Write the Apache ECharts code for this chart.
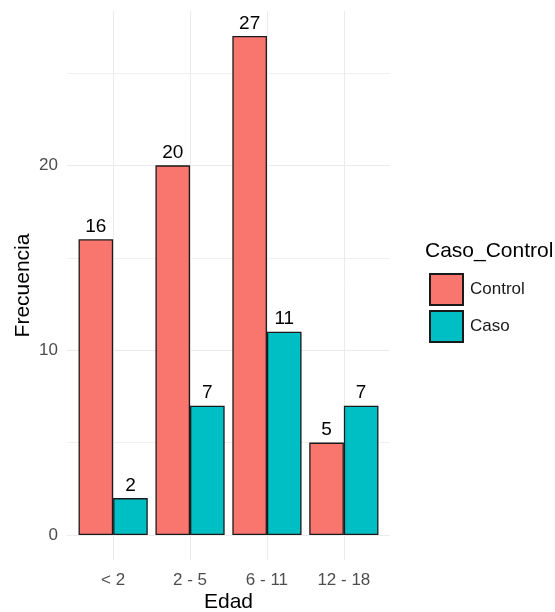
<!DOCTYPE html>
<html><head><meta charset="utf-8">
<script src="https://cdn.jsdelivr.net/npm/echarts@6/dist/echarts.min.js"></script>
<style>html,body{margin:0;padding:0;background:#fff}#c{width:555px;height:612px}</style>
</head><body><div id="c"></div>
<script>
const categories = ['< 2', '2 - 5', '6 - 11', '12 - 18'];
const controlValues = [16, 20, 27, 5];
const casoValues = [2, 7, 11, 7];
const yTickValues = [0, 10, 20];
const yMinorValues = [5, 15, 25];
const seriesNames = ['Control', 'Caso'];
const legendTitle = 'Caso_Control';
const xTitle = 'Edad';
const yTitle = 'Frecuencia';

const font = '"Liberation Sans", Arial, sans-serif';
const xPos = categories.map((c, i) => i + 1);
const gridMarks = [].concat(
  yTickValues.map(v => ({ yAxis: v, lineStyle: { color: '#ebebeb', width: 1, type: 'solid' } })),
  yMinorValues.map(v => ({ yAxis: v, lineStyle: { color: '#f0f0f0', width: 1, type: 'solid' } })),
  xPos.map(v => ({ xAxis: v, lineStyle: { color: '#ebebeb', width: 1, type: 'solid' } }))
);
const lbl = { show: true, position: 'top', distance: 3, color: '#000', fontSize: 19, fontFamily: font };
const border = { borderColor: '#1a1a1a', borderWidth: 1.3 };

const chart = echarts.init(document.getElementById('c'), null, { renderer: 'canvas' });
chart.setOption({
  animation: false,
  backgroundColor: '#fff',
  textStyle: { fontFamily: font },
  title: { text: legendTitle, left: 420, top: 236, textStyle: { fontSize: 21, fontWeight: 'normal', color: '#000', fontFamily: font } },
  legend: {
    orient: 'vertical', left: 424, top: 268, itemWidth: 33, itemHeight: 31, itemGap: 4,
    icon: 'rect', data: seriesNames,
    textStyle: { fontSize: 17, color: '#1a1a1a', fontFamily: font, padding: [0, 0, 0, 2] }
  },
  grid: { left: 67, right: 165, top: 11, bottom: 52, containLabel: false, outerBoundsMode: 'none' },
  xAxis: {
    type: 'value', min: 0.4, max: 4.6,
    name: xTitle, nameLocation: 'middle', nameGap: 32, nameMoveOverlap: false,
    nameTextStyle: { fontSize: 21, color: '#000', fontFamily: font },
    axisLine: { show: false }, axisTick: { show: false }, splitLine: { show: false },
    axisLabel: { customValues: xPos, formatter: v => categories[Math.round(v) - 1], fontSize: 17, color: '#4d4d4d', margin: 12, fontFamily: font }
  },
  yAxis: {
    type: 'value', min: -1.35, max: 28.35,
    name: yTitle, nameLocation: 'middle', nameGap: 33, nameMoveOverlap: false,
    nameTextStyle: { fontSize: 21, color: '#000', fontFamily: font },
    axisLine: { show: false }, axisTick: { show: false }, splitLine: { show: false },
    axisLabel: { customValues: yTickValues, fontSize: 17, color: '#4d4d4d', margin: 9, fontFamily: font }
  },
  series: [
    {
      name: 'grid', type: 'line', data: [], silent: true, z: 1,
      markLine: { silent: true, symbol: 'none', z: 1, label: { show: false }, data: gridMarks }
    },
    {
      name: seriesNames[0], type: 'bar', barWidth: 34.6, barGap: '0%', z: 3,
      data: controlValues.map((v, i) => [xPos[i], v]),
      itemStyle: Object.assign({ color: '#F8766D' }, border),
      label: lbl
    },
    {
      name: seriesNames[1], type: 'bar', barWidth: 34.6, barGap: '0%', z: 3,
      data: casoValues.map((v, i) => [xPos[i], v]),
      itemStyle: Object.assign({ color: '#00BFC4' }, border),
      label: lbl
    }
  ]
});
</script></body></html>
